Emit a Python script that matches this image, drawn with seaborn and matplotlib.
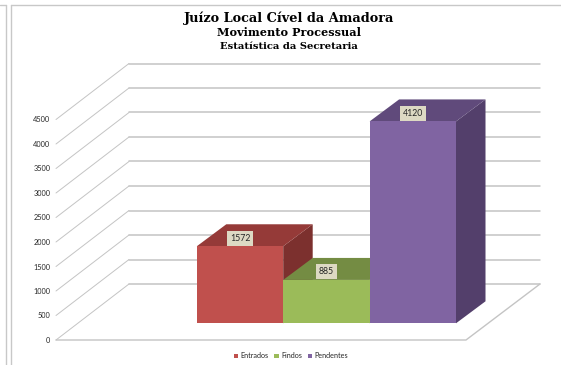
import pandas as pd
import matplotlib.pyplot as plt
from matplotlib.lines import Line2D
from matplotlib.patches import Polygon
import seaborn as sns

categories = ["Entrados", "Findos", "Pendentes"]
values = [1572, 885, 4120]
front_colors = ["#C0504D", "#9BBB59", "#8064A2"]
top_colors = ["#953A38", "#748C43", "#604A7B"]
side_colors = ["#7C302E", "#627739", "#533F6B"]
y_ticks = [0, 500, 1000, 1500, 2000, 2500, 3000, 3500, 4000, 4500]

title_lines = ["Juízo Local Cível da Amadora", "Movimento Processual", "Estatística da Secretaria"]

W, H = 561, 365
PX_PER_UNIT = 0.049   # pixels per value unit
BASE_Y = 323.3        # pixel row of the bar base
CAT_PX = 86.4         # category width in pixels
CAT0_X = 240.0        # pixel column of first bar centre
DEPTH_X = 29.5 / CAT_PX
DEPTH_Y = 22 / PX_PER_UNIT


def cat_from_px(px):
    return (px - CAT0_X) / CAT_PX


def val_from_px(py):
    return (BASE_Y - py) / PX_PER_UNIT


sns.set_style("white")
plt.rcParams["font.family"] = ["Lato", "DejaVu Sans"]

df = pd.DataFrame({"categoria": categories, "valor": values})

fig = plt.figure(figsize=(W / 100, H / 100), dpi=100)
ax = fig.add_axes([0, 0, 1, 1])
sns.barplot(data=df, x="categoria", y="valor", hue="categoria", hue_order=categories,
            palette=front_colors, width=1, gap=0, dodge=False, saturation=1,
            linewidth=0, zorder=5, legend=True, ax=ax)
ax.set_xlim(cat_from_px(0), cat_from_px(W))
ax.set_ylim(val_from_px(H), val_from_px(0))

# back wall and floor
wall = dict(color="#C4C4C4", zorder=1, clip_on=False)
x_fl, x_fr = cat_from_px(56), cat_from_px(466)
x_bl, x_br = cat_from_px(129), cat_from_px(540)
y_front0, y_back0 = val_from_px(340), val_from_px(284)
for t in y_ticks:
    ax.plot([x_fl, x_bl], [y_front0 + t, y_back0 + t], lw=0.7, **wall)
    ax.plot([x_bl, x_br], [y_back0 + t, y_back0 + t], lw=1.1, **wall)
ax.plot([x_fl, x_fr, x_br], [y_front0, y_front0, y_back0], lw=1.0, **wall)

# depth faces of the bars
for i, v in enumerate(values):
    l, r = i - 0.5, i + 0.5
    top = [(l, v), (r, v), (r + DEPTH_X, v + DEPTH_Y), (l + DEPTH_X, v + DEPTH_Y)]
    side = [(r, 0), (r, v), (r + DEPTH_X, v + DEPTH_Y), (r + DEPTH_X, DEPTH_Y)]
    ax.add_patch(Polygon(side, closed=True, fc=side_colors[i], ec="none", zorder=2 + i))
    ax.add_patch(Polygon(top, closed=True, fc=top_colors[i], ec="none", zorder=2 + i))
    ax.text(i, v + 8 / PX_PER_UNIT, str(v), ha="center", va="center", fontsize=6.3,
            color="#262626", zorder=8,
            bbox=dict(boxstyle="square,pad=0.35", fc="#DDD9C3", ec="none"))

ax.set_axis_off()

# legend
sns.move_legend(ax, "center", bbox_to_anchor=(291 / W, 1 - 356 / H), ncol=3, frameon=False,
                title=None, fontsize=5.2, handlelength=0.6, handleheight=0.6,
                handletextpad=0.35, columnspacing=0.8, labelcolor="#262626")

# value axis along the front edge of the wall
tick_ax = fig.add_axes([56 / W, 1 - 340 / H, 0.02, (340 - 119.5) / H])
tick_ax.set_ylim(0, 4500)
tick_ax.set_yticks(y_ticks)
tick_ax.set_xticks([])
tick_ax.tick_params(axis="y", length=0, pad=4, labelsize=5.3, labelcolor="#262626")
tick_ax.patch.set_visible(False)
sns.despine(ax=tick_ax, left=True, bottom=True)

# titles
for line, y, size in zip(title_lines, [18.5, 33, 46.5], [9.3, 8.1, 7.2]):
    fig.text(289 / W, 1 - y / H, line, ha="center", va="center", fontsize=size,
             fontweight="bold", family="DejaVu Serif", color="black")

# worksheet frames
frame = dict(color="#C8C8C8", lw=1.0, transform=fig.transFigure)
fig.add_artist(Line2D([11 / W, 11 / W], [0, 1 - 4.5 / H], **frame))
fig.add_artist(Line2D([11 / W, 1], [1 - 4.5 / H, 1 - 4.5 / H], **frame))
fig.add_artist(Line2D([5.5 / W, 5.5 / W], [0, 1 - 4.5 / H], **frame))
fig.add_artist(Line2D([0, 5.5 / W], [1 - 4.5 / H, 1 - 4.5 / H], **frame))

fig.savefig("out.png", dpi=100)
